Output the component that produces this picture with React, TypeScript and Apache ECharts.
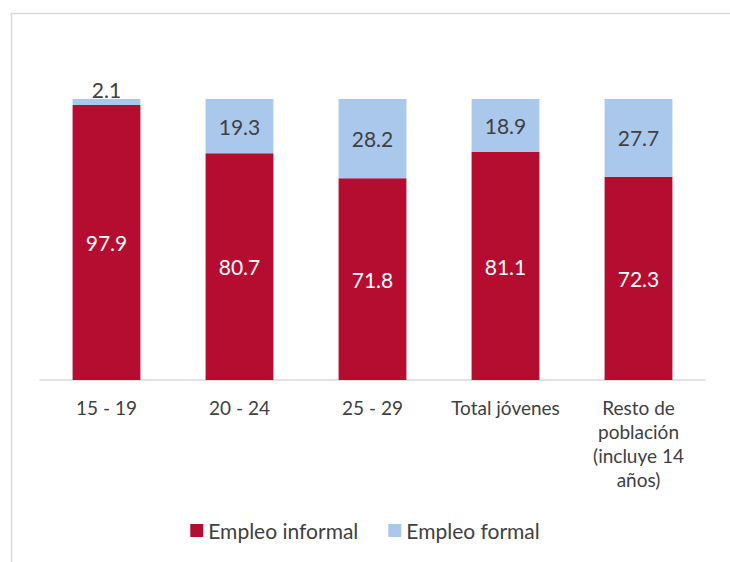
import React, { useEffect, useRef } from "react";
import * as echarts from "echarts";

const categories = ["15 - 19", "20 - 24", "25 - 29", "Total jóvenes", "Resto de población (incluye 14 años)"];
const categoryLabels: Record<string, string> = {
  "Resto de población (incluye 14 años)": "Resto de\npoblación\n(incluye 14\naños)",
};
const informal = [97.9, 80.7, 71.8, 81.1, 72.3];
const formal = [2.1, 19.3, 28.2, 18.9, 27.7];
const seriesNames = ["Empleo informal", "Empleo formal"];

const FONT = "Lato, 'Open Sans', sans-serif";

export default function App() {
  const ref = useRef<HTMLDivElement>(null);
  useEffect(() => {
    if (!ref.current) return;
    const chart = echarts.init(ref.current, null, { renderer: "svg" });
    chart.setOption({
      animation: false,
      textStyle: { fontFamily: FONT },
      graphic: [
        {
          type: "rect",
          shape: { x: 11.5, y: 13.5, width: 900, height: 700 },
          style: { fill: "none", stroke: "#d9d9d9", lineWidth: 1.5 },
          silent: true,
          z: -10,
        },
      ],
      grid: { left: 40, right: 25, top: 99, bottom: 182, containLabel: false },
      legend: {
        bottom: 16,
        left: "center",
        itemWidth: 13,
        itemHeight: 13,
        itemGap: 30,
        icon: "rect",
        textStyle: { fontFamily: FONT, fontSize: 21, color: "#404040" },
        data: seriesNames,
      },
      xAxis: {
        type: "category",
        data: categories,
        axisLine: { lineStyle: { color: "#d9d9d9", width: 1.5 } },
        axisTick: { show: false },
        axisLabel: {
          fontFamily: FONT,
          fontSize: 19,
          color: "#404040",
          margin: 15,
          lineHeight: 24,
          interval: 0,
          formatter: (v: string) => categoryLabels[v] ?? v,
        },
      },
      yAxis: { type: "value", min: 0, max: 100, show: false, splitLine: { show: false } },
      series: [
        {
          name: seriesNames[0],
          type: "bar",
          stack: "total",
          barWidth: "51%",
          data: informal,
          itemStyle: { color: "#B50D2F" },
          label: {
            show: true,
            position: "inside",
            color: "#ffffff",
            fontFamily: FONT,
            fontSize: 21,
            formatter: (p: any) => p.value.toFixed(1),
          },
        },
        {
          name: seriesNames[1],
          type: "bar",
          stack: "total",
          barWidth: "51%",
          data: formal.map((v, i) =>
            i === 0 ? { value: v, label: { position: "top", distance: -1 } } : v
          ),
          itemStyle: { color: "#A9C8EC" },
          label: {
            show: true,
            position: "inside",
            color: "#404040",
            fontFamily: FONT,
            fontSize: 21,
            formatter: (p: any) => p.value.toFixed(1),
          },
        },
      ],
    });
    return () => chart.dispose();
  }, []);
  return (
    <div
      ref={ref}
      style={{ position: "absolute", left: 0, top: 0, width: 730, height: 562, background: "#fff" }}
    />
  );
}
